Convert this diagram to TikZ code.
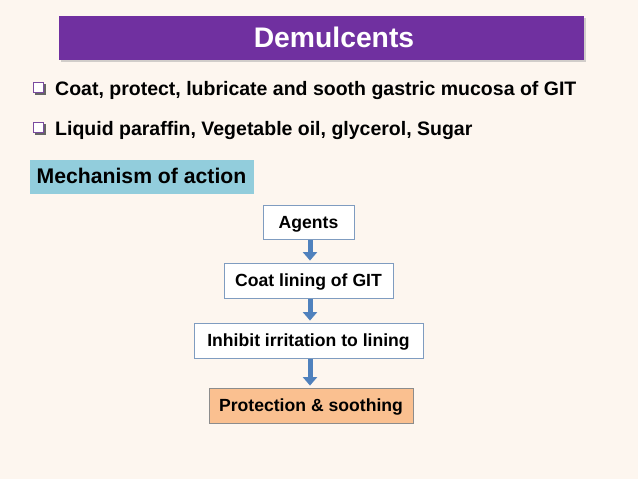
\documentclass[tikz,border=0pt]{standalone}
\usepackage{fontspec}
\setmainfont{Liberation Sans}
\usetikzlibrary{arrows.meta}
\definecolor{bgc}{HTML}{FDF6EF}
\definecolor{titlec}{HTML}{7030A0}
\definecolor{mechc}{HTML}{92CDDC}
\definecolor{boxline}{HTML}{7F9CC0}
\definecolor{arrowc}{HTML}{4F81BD}
\definecolor{peach}{HTML}{FAC090}
\definecolor{chk}{HTML}{7A4AA0}
\tikzset{
  flowbox/.style={draw=boxline, line width=0.8pt, fill=white, font=\bfseries\fontsize{17.6}{20}\selectfont, inner sep=0pt, text height=12.6pt, text depth=0pt, anchor=center},
  flowarrow/.style={draw=arrowc, line width=5pt, -{Triangle[width=14pt,length=8.5pt]}, shorten <=1pt, shorten >=2pt},
  bullettext/.style={anchor=base west, font=\bfseries\fontsize{19.5}{22}\selectfont, inner sep=0pt},
  chkbox/.style={draw=chk, line width=1.2pt, fill=white, minimum size=9.5pt, inner sep=0pt}
}
\begin{document}
\begin{tikzpicture}[x=1pt,y=-1pt]
\fill[bgc] (0,0) rectangle (638,479);
\useasboundingbox (0,0) rectangle (638,479);
% title bar
\fill[black!35, opacity=0.5] (61,18) rectangle (586,62);
\node[fill=titlec, minimum width=525pt, minimum height=44pt, inner sep=0pt, anchor=north west] (title) at (59,16) {};
\node[text=white, font=\bfseries\fontsize{28.3}{32}\selectfont, inner sep=0pt, text height=20.3pt, text depth=0pt] (titletext) at (334,37.5) {Demulcents};
% bullets
\fill[black!60] (35,84) rectangle (46,95);
\node[chkbox, anchor=north west] (c1) at (33,82) {};
\node[bullettext] (b1) at (55,95) {Coat, protect, lubricate and sooth gastric mucosa of GIT};
\fill[black!60] (35,124) rectangle (46,135);
\node[chkbox, anchor=north west] (c2) at (33,122) {};
\node[bullettext] (b2) at (55,135) {Liquid paraffin, Vegetable oil, glycerol, Sugar};
% mechanism
\node[fill=mechc, minimum width=224pt, minimum height=34pt, inner sep=0pt, anchor=north west] (mech) at (30,160) {};
\node[font=\bfseries\fontsize{21.2}{24}\selectfont, inner sep=0pt, text height=15.2pt, text depth=0pt] (mechtext) at (141.5,175.5) {Mechanism of action};
% flow
\node[flowbox, minimum width=91pt, minimum height=34pt] (a) at (308.5,222) {Agents};
\node[flowbox, minimum width=169pt, minimum height=35pt] (b) at (308.5,280.5) {Coat lining of GIT};
\node[flowbox, minimum width=229pt, minimum height=35pt] (c) at (308.5,340.5) {Inhibit irritation to lining};
\node[flowbox, draw=black!45, fill=peach, minimum width=204pt, minimum height=35pt] (d) at (311,405.5) {Protection \& soothing};
\draw[flowarrow] ([xshift=1.5pt]a.south) -- ([xshift=1.5pt]b.north);
\draw[flowarrow] ([xshift=1.5pt]b.south) -- ([xshift=1.5pt]c.north);
\draw[flowarrow] ([xshift=1.5pt]c.south) -- ([xshift=-1pt]d.north);
\end{tikzpicture}
\end{document}
